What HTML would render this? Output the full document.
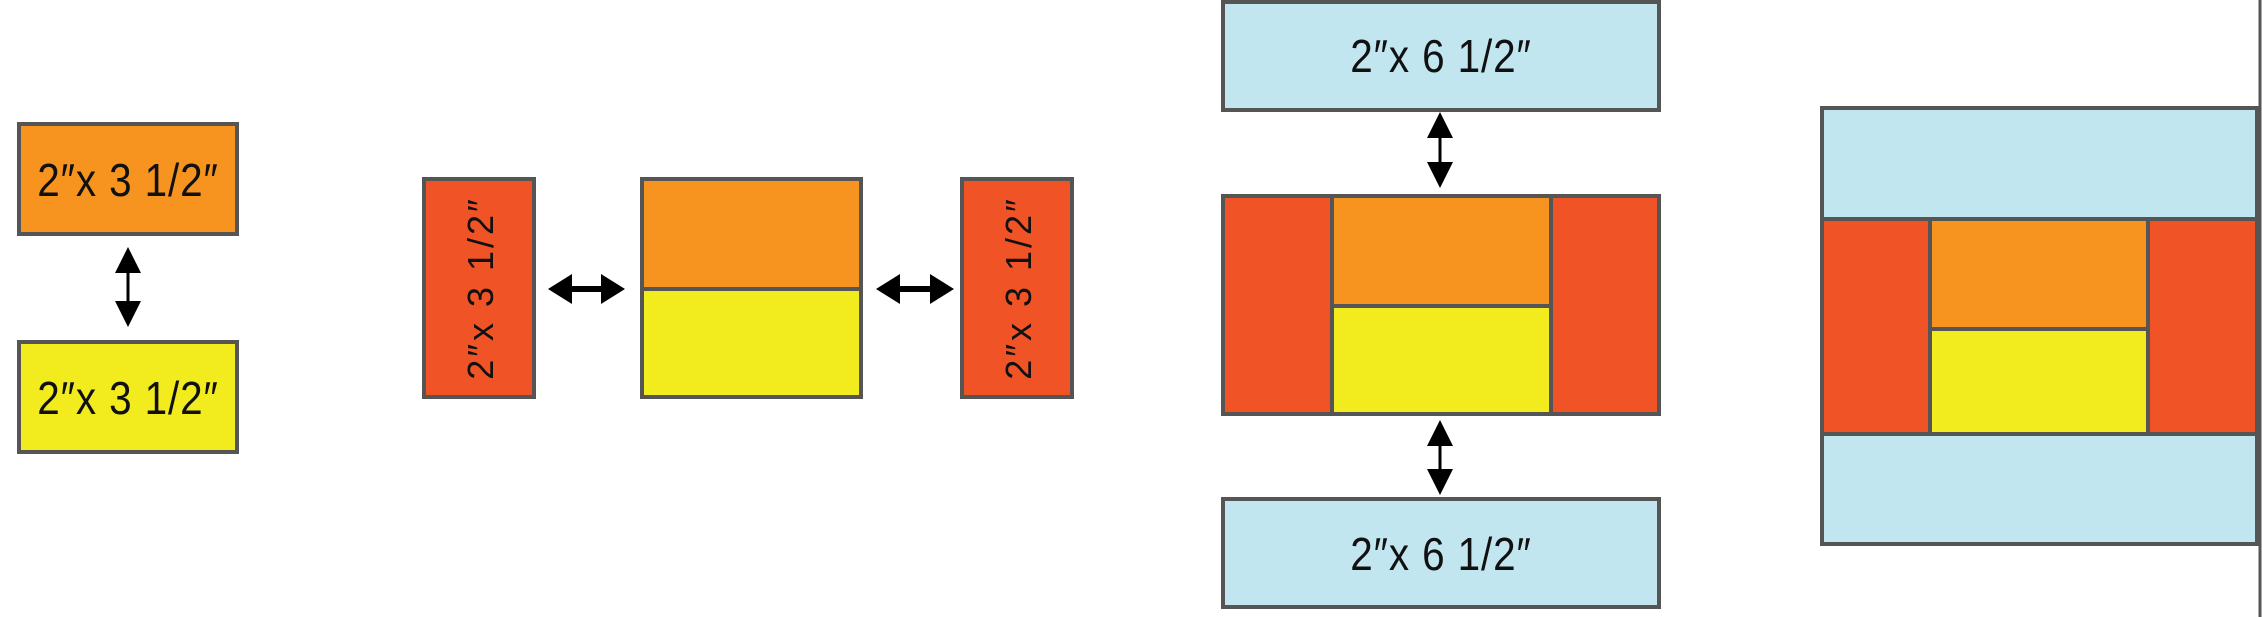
<!DOCTYPE html>
<html><head><meta charset="utf-8"><style>
html,body{margin:0;padding:0;background:#fff;}
svg{display:block;}
text{font-family:"Liberation Sans",sans-serif;fill:#111;}
</style></head><body>
<svg width="2262" height="617" viewBox="0 0 2262 617" xmlns="http://www.w3.org/2000/svg">
<g stroke="#555" stroke-width="4">
<rect x="19" y="124" width="218" height="110" fill="#f7941f"/>
<rect x="19" y="342" width="218" height="110" fill="#f2eb1e"/>
<rect x="424" y="179" width="110" height="218" fill="#ef5326"/>
<rect x="642" y="179" width="219" height="110" fill="#f7941f"/>
<rect x="642" y="289" width="219" height="108" fill="#f2eb1e"/>
<rect x="962" y="179" width="110" height="218" fill="#ef5326"/>
<rect x="1223" y="2" width="436" height="108" fill="#c1e6f0"/>
<rect x="1223" y="196" width="109" height="218" fill="#ef5326"/>
<rect x="1332" y="196" width="219" height="110" fill="#f7941f"/>
<rect x="1332" y="306" width="219" height="108" fill="#f2eb1e"/>
<rect x="1551" y="196" width="108" height="218" fill="#ef5326"/>
<rect x="1223" y="499" width="436" height="108" fill="#c1e6f0"/>
<rect x="1822" y="108" width="435" height="111" fill="#c1e6f0"/>
<rect x="1822" y="219" width="108" height="215" fill="#ef5326"/>
<rect x="1930" y="219" width="218" height="110" fill="#f7941f"/>
<rect x="1930" y="329" width="218" height="105" fill="#f2eb1e"/>
<rect x="2148" y="219" width="109" height="215" fill="#ef5326"/>
<rect x="1822" y="434" width="435" height="110" fill="#c1e6f0"/>
</g>
<line x1="2260" y1="0" x2="2260" y2="617" stroke="#555" stroke-width="3"/>
<g fill="#000">
<g transform="translate(128 0)"><rect x="-1.5" y="260" width="3" height="55"/><polygon points="0,247 -13,273 13,273"/><polygon points="0,327 -13,301 13,301"/></g>
<g transform="translate(1440 0)"><rect x="-1.5" y="125" width="3" height="50"/><polygon points="0,112 -13,138 13,138"/><polygon points="0,188 -13,162 13,162"/></g>
<g transform="translate(1440 0)"><rect x="-1.5" y="433" width="3" height="50"/><polygon points="0,420 -13,446 13,446"/><polygon points="0,495 -13,469 13,469"/></g>
<g transform="translate(0 289)"><rect x="560" y="-3" width="52" height="6"/><polygon points="548,0 572,-15 572,15"/><polygon points="625,0 601,-15 601,15"/></g>
<g transform="translate(0 289)"><rect x="888" y="-3" width="54" height="6"/><polygon points="876,0 900,-15 900,15"/><polygon points="954,0 930,-15 930,15"/></g>
</g>
<g font-size="46" text-anchor="middle">
<text x="128" y="196" transform="translate(128 0) scale(0.88 1) translate(-128 0)" letter-spacing="1">2″x 3 1/2″</text>
<text x="128" y="414" transform="translate(128 0) scale(0.88 1) translate(-128 0)" letter-spacing="1">2″x 3 1/2″</text>
<text x="1441" y="72" transform="translate(1441 0) scale(0.88 1) translate(-1441 0)" letter-spacing="1">2″x 6 1/2″</text>
<text x="1441" y="570" transform="translate(1441 0) scale(0.88 1) translate(-1441 0)" letter-spacing="1">2″x 6 1/2″</text>
<text font-size="36" letter-spacing="3" transform="translate(493 288) rotate(-90)" x="0" y="0">2″x 3 1/2″</text>
<text font-size="36" letter-spacing="3" transform="translate(1031 288) rotate(-90)" x="0" y="0">2″x 3 1/2″</text>
</g>
</svg>
</body></html>
